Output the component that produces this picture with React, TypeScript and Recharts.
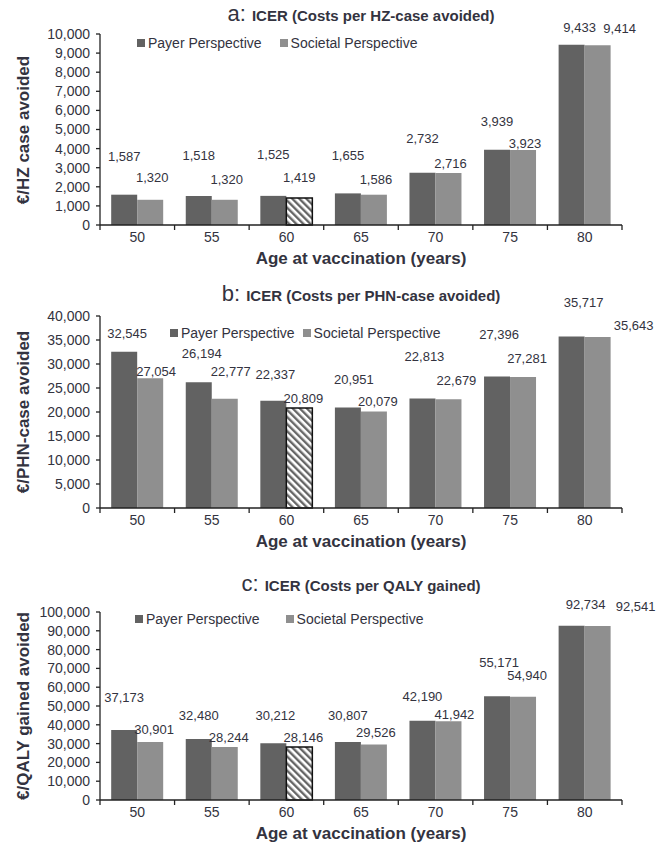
import { BarChart, Bar, XAxis, YAxis, Cell, LabelList, Legend } from "recharts";

const ages = ["50", "55", "60", "65", "70", "75", "80"];

const hzPayer = [1587, 1518, 1525, 1655, 2732, 3939, 9433];
const hzSocietal = [1320, 1320, 1419, 1586, 2716, 3923, 9414];
const hzTicks = [0, 1000, 2000, 3000, 4000, 5000, 6000, 7000, 8000, 9000, 10000];

const phnPayer = [32545, 26194, 22337, 20951, 22813, 27396, 35717];
const phnSocietal = [27054, 22777, 20809, 20079, 22679, 27281, 35643];
const phnTicks = [0, 5000, 10000, 15000, 20000, 25000, 30000, 35000, 40000];

const qalyPayer = [37173, 32480, 30212, 30807, 42190, 55171, 92734];
const qalySocietal = [30901, 28244, 28146, 29526, 41942, 54940, 92541];
const qalyTicks = [0, 10000, 20000, 30000, 40000, 50000, 60000, 70000, 80000, 90000, 100000];

// the base-case bar (age 60, societal) is drawn hatched
const HATCHED = 2;

// label placement as in the original: lift above bar top, sideways shift (px)
const hzPayerLift = [38, 41, 41, 38, 34, 28, 17];
const hzSocLift = [22, 20, 20, 15, 10, 7, 17];
const hzPayerShift = [0, 0, 0, 0, 0, 0, 8];
const hzSocShift = [2, 2, 0, 2, 2, 2, 22];

const phnPayerLift = [18, 29, 26, 28, 42, 42, 34];
const phnSocLift = [7, 27, 10, 10, 19, 19, 11];
const phnPayerShift = [3, 3, 2, 6, 2, 2, 12];
const phnSocShift = [6, 6, 4, 4, 8, 4, 36];

const qalyPayerLift = [33, 23, 28, 27, 24, 34, 21];
const qalySocLift = [12, 9, 10, 12, 7, 21, 20];
const qalyPayerShift = [0, 0, 2, 0, 0, 2, 14];
const qalySocShift = [4, 4, 4, 2, 6, 4, 38];

const FONT = '"Liberation Sans Narrow", "Arial Narrow", "Liberation Sans", Arial, sans-serif';
const TEXT = "#333340";
const DARK = "#626262";
const LIGHT = "#8f8f8f";
const AXIS = "#222";

const W = 666;
const PLOT_L = 100;
const PLOT_R = 622;
const BAND = (PLOT_R - PLOT_L) / ages.length;

const fmt = (v: number) => v.toLocaleString("en-US");

function XTick(props: any) {
  const { x, y, payload, index } = props;
  const last = index === ages.length - 1;
  return (
    <g>
      <line x1={x - BAND / 2} x2={x - BAND / 2} y1={y} y2={y + 5} stroke={AXIS} strokeWidth={1.3} />
      {last && <line x1={x + BAND / 2} x2={x + BAND / 2} y1={y} y2={y + 5} stroke={AXIS} strokeWidth={1.3} />}
      <text x={x} y={y + 17} textAnchor="middle" fontSize={14} fill={TEXT} fontFamily={FONT}>
        {payload.value}
      </text>
    </g>
  );
}

function liftLabel(lifts: number[], shifts: number[]) {
  return (p: any) => {
    const { x, y, width, value, index } = p;
    return (
      <text
        x={x + width / 2 + shifts[index]}
        y={y - lifts[index]}
        textAnchor="middle"
        dominantBaseline="central"
        fontSize={13}
        fill={TEXT}
        fontFamily={FONT}
      >
        {fmt(value)}
      </text>
    );
  };
}

function LegendBox({ gap }: { gap: number }) {
  const item = (color: string, text: string) => (
    <span style={{ display: "inline-flex", alignItems: "center" }}>
      <span style={{ width: 8, height: 8, background: color, marginRight: 3, display: "inline-block" }} />
      {text}
    </span>
  );
  return (
    <div style={{ display: "flex", gap, fontFamily: FONT, fontSize: 14, color: TEXT, whiteSpace: "nowrap" }}>
      {item(DARK, "Payer Perspective")}
      {item(LIGHT, "Societal Perspective")}
    </div>
  );
}

interface PanelProps {
  id: string;
  top: number;
  plotTop: number;
  plotBottom: number;
  letter: string;
  title: string;
  yTitle: string;
  payer: number[];
  societal: number[];
  ticks: number[];
  payerLift: number[];
  socLift: number[];
  payerShift: number[];
  socShift: number[];
  legendLeft: number;
  legendTop: number;
  legendGap: number;
}

function Panel(p: PanelProps) {
  const data = ages.map((age, i) => ({ age, payer: p.payer[i], societal: p.societal[i] }));
  const height = p.plotBottom - p.top + 25;
  const mid = (p.plotTop + p.plotBottom) / 2;
  const max = p.ticks[p.ticks.length - 1];
  return (
    <>
      <div
        style={{
          position: "absolute",
          left: PLOT_L,
          width: PLOT_R - PLOT_L,
          top: p.top + 2,
          textAlign: "center",
          fontFamily: FONT,
          color: TEXT,
          whiteSpace: "nowrap",
          lineHeight: "24px",
        }}
      >
        <span style={{ fontSize: 22 }}>{p.letter}: </span>
        <span style={{ fontSize: 15, fontWeight: "bold" }}>{p.title}</span>
      </div>
      <div style={{ position: "absolute", left: 0, top: p.top, width: W, height }}>
        <BarChart
          width={W}
          height={height}
          data={data}
          margin={{ top: p.plotTop - p.top, right: W - PLOT_R, left: 0, bottom: 5 }}
          barCategoryGap="15%"
          barGap={0}
        >
          <defs>
            <pattern id={p.id} patternUnits="userSpaceOnUse" width={5} height={5} patternTransform="rotate(-45)">
              <rect width={5} height={5} fill="#fff" />
              <rect width={2.4} height={5} fill="#666" />
            </pattern>
          </defs>
          <XAxis
            dataKey="age"
            height={20}
            tickSize={0}
            tickMargin={0}
            interval={0}
            tick={<XTick />}
            axisLine={{ stroke: AXIS, strokeWidth: 1.3 }}
          />
          <YAxis
            width={PLOT_L}
            domain={[0, max]}
            ticks={p.ticks}
            interval={0}
            tickFormatter={fmt}
            tickSize={4}
            tickMargin={6}
            axisLine={{ stroke: AXIS, strokeWidth: 1.3 }}
            tickLine={{ stroke: AXIS, strokeWidth: 1.3 }}
            tick={{ fontSize: 14, fill: TEXT, fontFamily: FONT }}
          />
          <Legend
            layout="horizontal"
            verticalAlign="middle"
            align="center"
            wrapperStyle={{ top: p.legendTop - p.top - 9, left: p.legendLeft, width: "auto" }}
            content={() => <LegendBox gap={p.legendGap} />}
          />
          <Bar dataKey="payer" name="Payer Perspective" fill={DARK} isAnimationActive={false}>
            <LabelList dataKey="payer" content={liftLabel(p.payerLift, p.payerShift)} />
          </Bar>
          <Bar dataKey="societal" name="Societal Perspective" fill={LIGHT} isAnimationActive={false}>
            {data.map((_, i) => (
              <Cell
                key={i}
                fill={i === HATCHED ? `url(#${p.id})` : LIGHT}
                stroke={i === HATCHED ? "#111" : "none"}
                strokeWidth={i === HATCHED ? 1.5 : 0}
              />
            ))}
            <LabelList dataKey="societal" content={liftLabel(p.socLift, p.socShift)} />
          </Bar>
        </BarChart>
      </div>
      <div
        style={{
          position: "absolute",
          left: 24 - 100,
          width: 200,
          top: mid - 10,
          lineHeight: "20px",
          textAlign: "center",
          transform: "rotate(-90deg)",
          fontFamily: FONT,
          fontSize: 17,
          fontWeight: "bold",
          color: TEXT,
          whiteSpace: "nowrap",
        }}
      >
        {p.yTitle}
      </div>
      <div
        style={{
          position: "absolute",
          left: PLOT_L,
          width: PLOT_R - PLOT_L,
          top: p.plotBottom + 23,
          lineHeight: "22px",
          textAlign: "center",
          fontFamily: FONT,
          fontSize: 17,
          fontWeight: "bold",
          color: TEXT,
          whiteSpace: "nowrap",
        }}
      >
        Age at vaccination (years)
      </div>
    </>
  );
}

export default function App() {
  return (
    <div style={{ position: "absolute", left: 0, top: 0, width: W, height: 852, background: "#fff" }}>
      <Panel
        id="hatchA"
        top={0}
        plotTop={34}
        plotBottom={225}
        letter="a"
        title="ICER (Costs per HZ-case avoided)"
        yTitle="€/HZ case avoided"
        payer={hzPayer}
        societal={hzSocietal}
        ticks={hzTicks}
        payerLift={hzPayerLift}
        socLift={hzSocLift}
        payerShift={hzPayerShift}
        socShift={hzSocShift}
        legendLeft={137}
        legendTop={44}
        legendGap={18}
      />
      <Panel
        id="hatchB"
        top={280}
        plotTop={316}
        plotBottom={508}
        letter="b"
        title="ICER (Costs per PHN-case avoided)"
        yTitle="€/PHN-case avoided"
        payer={phnPayer}
        societal={phnSocietal}
        ticks={phnTicks}
        payerLift={phnPayerLift}
        socLift={phnSocLift}
        payerShift={phnPayerShift}
        socShift={phnSocShift}
        legendLeft={170}
        legendTop={334}
        legendGap={8}
      />
      <Panel
        id="hatchC"
        top={570}
        plotTop={612}
        plotBottom={800}
        letter="c"
        title="ICER (Costs per QALY gained)"
        yTitle="€/QALY gained avoided"
        payer={qalyPayer}
        societal={qalySocietal}
        ticks={qalyTicks}
        payerLift={qalyPayerLift}
        socLift={qalySocLift}
        payerShift={qalyPayerShift}
        socShift={qalySocShift}
        legendLeft={135}
        legendTop={620}
        legendGap={26}
      />
    </div>
  );
}
